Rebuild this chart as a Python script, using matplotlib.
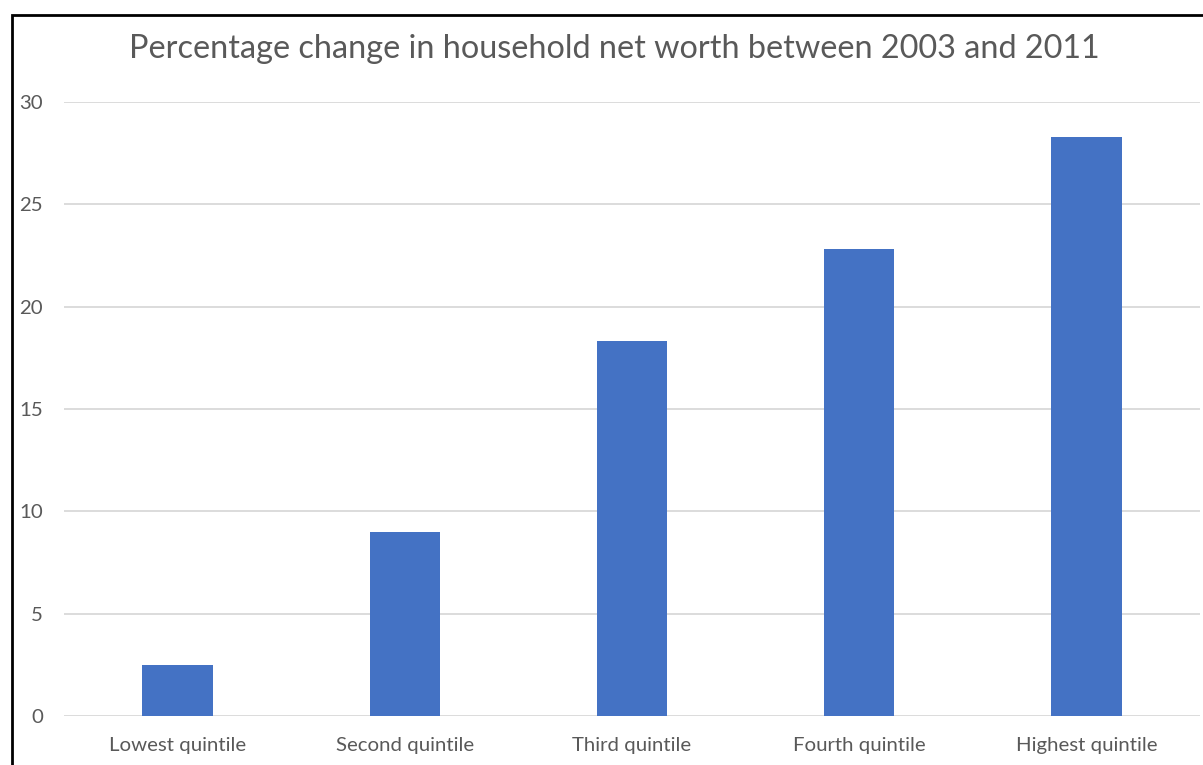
import matplotlib.pyplot as plt
from matplotlib.patches import Rectangle

categories = ["Lowest quintile", "Second quintile", "Third quintile",
              "Fourth quintile", "Highest quintile"]
values = [2.5, 9.0, 18.3, 22.8, 28.3]
y_ticks = [0, 5, 10, 15, 20, 25, 30]

plt.rcParams["font.family"] = ["Lato", "DejaVu Sans"]

fig = plt.figure(figsize=(12.03, 7.65), dpi=100)
ax = fig.add_axes([64 / 1203, 1 - 716 / 765, 1136 / 1203, 614 / 765])

ax.bar(range(len(categories)), values, width=0.31, color="#4472C4", zorder=3)

ax.set_xlim(-0.5, len(categories) - 0.5)
ax.set_ylim(0, 30)
ax.set_yticks(y_ticks)
ax.set_xticks(range(len(categories)))
ax.set_xticklabels(categories)

ax.grid(axis="y", color="#D9D9D9", linewidth=1.3, zorder=0)
for s in ax.spines.values():
    s.set_visible(False)
ax.tick_params(axis="both", length=0, labelsize=14.7, colors="#595959")
ax.tick_params(axis="y", pad=15)
ax.tick_params(axis="x", pad=15)

fig.text(0.511, 1 - 49 / 765, "Percentage change in household net worth between 2003 and 2011",
         ha="center", va="center", fontsize=23.3, color="#595959")

# frame around the chart (cropped at right and bottom)
fig.patches.append(Rectangle((12 / 1203, -0.1), 1.2, 1 - 15 / 765 + 0.1,
                             transform=fig.transFigure, fill=False,
                             edgecolor="black", linewidth=2))

fig.savefig("out.png", dpi=100)
plt.close()
